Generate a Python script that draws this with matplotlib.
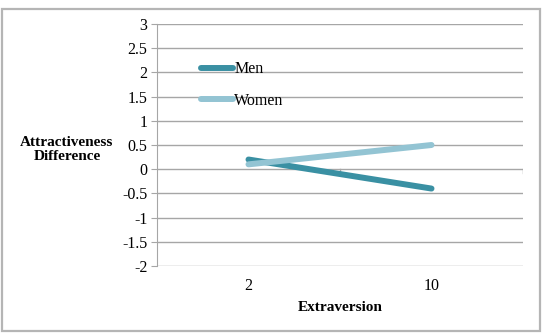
import matplotlib.pyplot as plt
from matplotlib.patches import Rectangle

# --- Datos --------------------------------------------------------------------
categorias = ["2", "10"]
hombres = [0.2, -0.4]
mujeres = [0.1, 0.5]
y_ticks = [3, 2.5, 2, 1.5, 1, 0.5, 0, -0.5, -1, -1.5, -2]

COLOR_MEN = "#3a90a3"
COLOR_WOMEN = "#93c4d3"
GRID = "#a6a6a6"

plt.rcParams["font.family"] = ["Liberation Serif", "DejaVu Serif"]

fig = plt.figure(figsize=(5.42, 3.36), dpi=100)
# borde gris de la figura
fig.patches.append(Rectangle((0.003, 0.014), 0.993, 0.96, transform=fig.transFigure,
                             fill=False, edgecolor="#b5b5b5", linewidth=1.6))

ax = fig.add_axes([157 / 542, 1 - 266 / 336, (523 - 157) / 542, (266 - 24) / 336])
x = list(range(len(categorias)))
ax.plot(x, hombres, color=COLOR_MEN, linewidth=4.3, solid_capstyle="round", label="Men")
ax.plot(x, mujeres, color=COLOR_WOMEN, linewidth=4.3, solid_capstyle="round", label="Women")

ax.set_xlim(-0.5, len(categorias) - 0.5)
ax.set_ylim(-2, 3)
ax.set_yticks(y_ticks)
ax.set_yticklabels([f"{t:g}" for t in y_ticks], fontsize=11.5)
ax.set_xticks(x)
ax.set_xticklabels(categorias, fontsize=11.5)
ax.tick_params(axis="x", length=0, pad=9)
ax.tick_params(axis="y", length=4, color=GRID, pad=3)

for t in y_ticks:
    ax.axhline(t, color=GRID, linewidth=1.0, zorder=0)
# marcas de categoría sobre la línea de cero
for b in [0.5, 1.5]:
    ax.plot([b, b], [0, -0.08], color=GRID, linewidth=1.0, zorder=0)

for s in ["top", "right", "bottom"]:
    ax.spines[s].set_visible(False)
ax.spines["left"].set_color(GRID)

ax.set_xlabel("Extraversion", fontsize=11, fontweight="bold", labelpad=5)
fig.text(67 / 542, 1 - 149 / 336, "Attractiveness\nDifference", ha="center", va="center",
         fontsize=11, fontweight="bold", linespacing=1.1)

leg = ax.legend(loc="upper left", bbox_to_anchor=(0.08, 0.905), frameon=False,
                fontsize=11.5, handlelength=2.0, handletextpad=0.1, labelspacing=0.95)

fig.savefig("out.png", dpi=100)
